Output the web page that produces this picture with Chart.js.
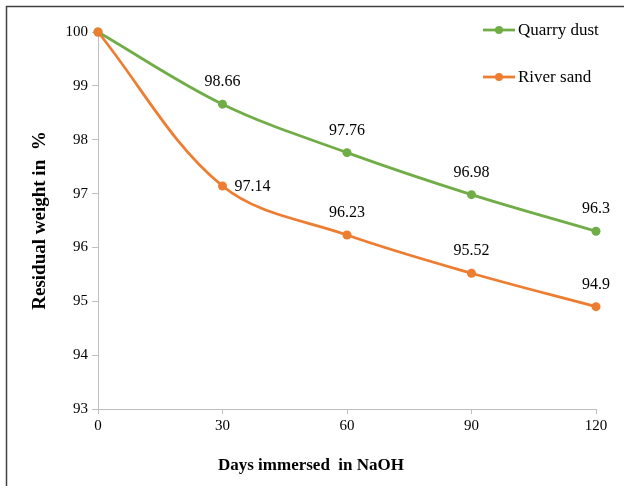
<!DOCTYPE html>
<html>
<head>
<meta charset="utf-8">
<script src="https://cdn.jsdelivr.net/npm/chart.js@4"></script>
<style>
html,body{margin:0;padding:0;background:#fff;}
canvas{display:block;}
</style>
</head>
<body>
<canvas id="c" width="624" height="486"></canvas>
<script>
const days = [0, 30, 60, 90, 120];
const quarryDust = [100, 98.66, 97.76, 96.98, 96.3];
const riverSand = [100, 97.14, 96.23, 95.52, 94.9];
const seriesNames = ['Quarry dust', 'River sand'];
const xTitle = 'Days immersed  in NaOH';
const yTitle = 'Residual weight in  %';

const GREEN = '#70ad47', ORANGE = '#ed7d31';
const SERIF = '"Liberation Serif", "Times New Roman", serif';

const borderPlugin = {
  id: 'outerBorder',
  beforeDraw(chart) {
    const ctx = chart.ctx;
    ctx.save();
    ctx.fillStyle = '#fff';
    ctx.fillRect(0, 0, chart.width, chart.height);
    ctx.strokeStyle = '#404040';
    ctx.lineWidth = 1.5;
    ctx.strokeRect(6.5, 6.5, 700, 600);
    ctx.restore();
  }
};

const labelPlugin = {
  id: 'dataLabels',
  afterDatasetsDraw(chart) {
    const ctx = chart.ctx;
    ctx.save();
    ctx.font = '16px ' + SERIF;
    ctx.fillStyle = '#000';
    chart.data.datasets.forEach((ds, di) => {
      const meta = chart.getDatasetMeta(di);
      meta.data.forEach((pt, i) => {
        if (i === 0) return;
        const txt = String(ds.data[i].y);
        if (di === 1 && i === 1) {
          ctx.textAlign = 'left';
          ctx.textBaseline = 'middle';
          ctx.fillText(txt, pt.x + 12, pt.y + 1);
        } else {
          ctx.textAlign = 'center';
          ctx.textBaseline = 'middle';
          ctx.fillText(txt, pt.x, pt.y - 22);
        }
      });
    });
    ctx.restore();
  }
};

const legendPlugin = {
  id: 'customLegend',
  afterDraw(chart) {
    const ctx = chart.ctx;
    ctx.save();
    const rows = [30, 77];
    chart.data.datasets.forEach((ds, i) => {
      const y = rows[i];
      ctx.strokeStyle = ds.borderColor;
      ctx.lineWidth = 2.75;
      ctx.beginPath();
      ctx.moveTo(483, y);
      ctx.lineTo(515, y);
      ctx.stroke();
      ctx.fillStyle = ds.borderColor;
      ctx.beginPath();
      ctx.arc(499, y, 4, 0, Math.PI * 2);
      ctx.fill();
      ctx.fillStyle = '#000';
      ctx.font = '17px ' + SERIF;
      ctx.textAlign = 'left';
      ctx.textBaseline = 'middle';
      ctx.fillText(ds.label, 518, y + 1);
    });
    // x-axis title, centred on the whole figure as in the reference
    ctx.font = 'bold 17px ' + SERIF;
    ctx.textAlign = 'center';
    ctx.textBaseline = 'middle';
    ctx.fillText(xTitle, 311, 466);
    ctx.restore();
  }
};

const toXY = (arr) => arr.map((v, i) => ({x: days[i], y: v}));

new Chart(document.getElementById('c'), {
  type: 'line',
  data: {
    datasets: [
      {
        label: seriesNames[0],
        data: toXY(quarryDust),
        borderColor: GREEN,
        backgroundColor: GREEN,
        borderWidth: 2.75,
        pointRadius: 4.5,
        pointBorderWidth: 0,
        pointBackgroundColor: GREEN,
        tension: 0.35,
        clip: false,
        order: 1
      },
      {
        label: seriesNames[1],
        data: toXY(riverSand),
        borderColor: ORANGE,
        backgroundColor: ORANGE,
        borderWidth: 2.75,
        pointRadius: 4.5,
        pointBorderWidth: 0,
        pointBackgroundColor: ORANGE,
        tension: 0.35,
        clip: false,
        order: 0
      }
    ]
  },
  options: {
    responsive: false,
    animation: false,
    devicePixelRatio: 1,
    layout: { padding: { left: 0, right: 28, top: 32, bottom: 0 } },
    plugins: {
      legend: { display: false },
      tooltip: { enabled: false }
    },
    scales: {
      x: {
        type: 'linear',
        min: 0,
        max: 120,
        afterBuildTicks(scale) { scale.ticks = days.map(v => ({value: v})); },
        afterFit(scale) { scale.height = 77; },
        grid: { drawOnChartArea: false, drawTicks: true, tickLength: 5, color: '#bfbfbf' },
        border: { color: '#bfbfbf', width: 1 },
        ticks: { font: { family: SERIF, size: 15 }, color: '#000', padding: 3, maxRotation: 0 },
        title: { display: false }
      },
      y: {
        min: 93,
        max: 100,
        afterFit(scale) { scale.width = 98; },
        grid: { drawOnChartArea: false, drawTicks: true, tickLength: 6, color: '#bfbfbf' },
        border: { color: '#bfbfbf', width: 1 },
        ticks: { stepSize: 1, font: { family: SERIF, size: 15 }, color: '#000', padding: 4 },
        title: {
          display: true,
          text: yTitle,
          font: { family: SERIF, size: 19, weight: 'bold' },
          color: '#000',
          padding: { top: 29, bottom: 0 }
        }
      }
    }
  },
  plugins: [borderPlugin, labelPlugin, legendPlugin]
});
</script>
</body>
</html>
